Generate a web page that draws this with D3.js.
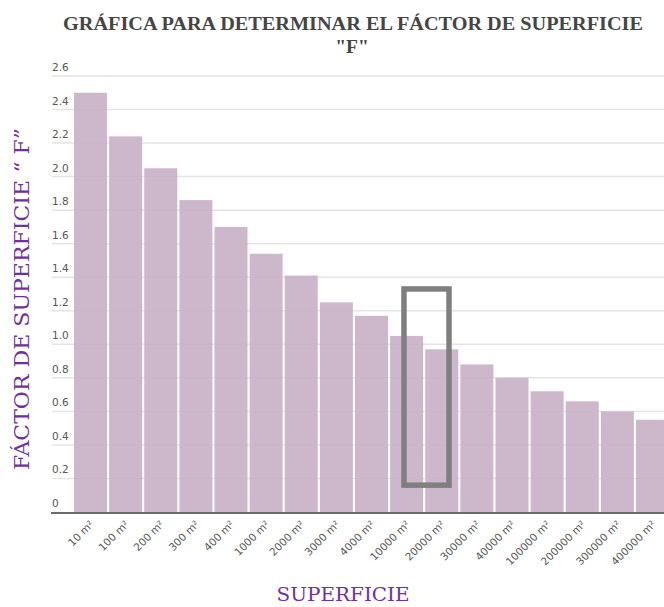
<!DOCTYPE html>
<html>
<head>
<meta charset="utf-8">
<script src="https://cdn.jsdelivr.net/npm/d3@7"></script>
<style>
  html, body { margin: 0; padding: 0; background: #fff; }
  svg { display: block; }
</style>
</head>
<body>
<svg id="chart" width="664" height="607"></svg>
<script>
// Surface categories and the surface factor "F" for each
const categories = ["10 m²", "100 m²", "200 m²", "300 m²", "400 m²", "1000 m²", "2000 m²",
  "3000 m²", "4000 m²", "10000 m²", "20000 m²", "30000 m²", "40000 m²", "100000 m²",
  "200000 m²", "300000 m²", "400000 m²"];
const factorValues = [2.5, 2.24, 2.05, 1.86, 1.70, 1.54, 1.41, 1.25, 1.17, 1.05, 0.97,
  0.88, 0.80, 0.72, 0.66, 0.60, 0.55];
const yTicks = [0, 0.2, 0.4, 0.6, 0.8, 1.0, 1.2, 1.4, 1.6, 1.8, 2.0, 2.2, 2.4, 2.6];
// Highlight box: category span and factor range it covers
const highlightCats = ["10000 m²", "20000 m²"];
const highlightRange = [0.16, 1.33];

const svg = d3.select("#chart");

const x = d3.scaleBand().domain(categories).range([74, 669]).paddingInner(0.06).paddingOuter(0);
const y = d3.scaleLinear().domain([0, 2.6]).range([512, 76]);

// Title
svg.append("text")
  .attr("x", 353).attr("y", 30)
  .attr("text-anchor", "middle")
  .attr("font-family", "Liberation Serif, serif")
  .attr("font-weight", "bold")
  .attr("font-size", 19.5)
  .attr("textLength", 580)
  .attr("lengthAdjust", "spacingAndGlyphs")
  .attr("fill", "#454545")
  .text("GRÁFICA PARA DETERMINAR EL FÁCTOR DE SUPERFICIE");
svg.append("text")
  .attr("x", 352).attr("y", 53)
  .attr("text-anchor", "middle")
  .attr("font-family", "Liberation Serif, serif")
  .attr("font-weight", "bold")
  .attr("font-size", 19.5)
  .attr("fill", "#454545")
  .text('"F"');

// Horizontal gridlines
svg.append("g").selectAll("line")
  .data(yTicks.filter(d => d > 0))
  .join("line")
  .attr("x1", 52).attr("x2", 664)
  .attr("y1", d => y(d)).attr("y2", d => y(d))
  .attr("stroke", "#e4e4e4")
  .attr("stroke-width", 1.5);

// Y tick labels sit just above their gridlines
svg.append("g").selectAll("text")
  .data(yTicks)
  .join("text")
  .attr("x", 52)
  .attr("y", d => y(d) - 5)
  .attr("font-family", "DejaVu Sans, sans-serif")
  .attr("font-size", 10.5)
  .attr("fill", "#555")
  .text(d => d === 0 ? "0" : d3.format(".1f")(d));

// Bars
svg.append("g").selectAll("rect")
  .data(categories.map((c, i) => ({ c, v: factorValues[i] })))
  .join("rect")
  .attr("x", d => x(d.c))
  .attr("y", d => y(d.v))
  .attr("width", x.bandwidth())
  .attr("height", d => y(0) - y(d.v))
  .attr("fill", "#c9b1c6")
  .attr("fill-opacity", 0.92);

// Baseline
svg.append("line")
  .attr("x1", 51).attr("x2", 664)
  .attr("y1", y(0) + 1).attr("y2", y(0) + 1)
  .attr("stroke", "#6b6b6b")
  .attr("stroke-width", 2);

// X tick labels, rotated
svg.append("g").selectAll("text")
  .data(categories)
  .join("text")
  .attr("transform", d => `translate(${x(d) + x.bandwidth() / 2 + 4},${y(0) + 13}) rotate(-45)`)
  .attr("text-anchor", "end")
  .attr("font-family", "DejaVu Sans, sans-serif")
  .attr("font-size", 10.5)
  .attr("fill", "#555")
  .text(d => d);

// Highlight box
const hx0 = x(highlightCats[0]) + x.bandwidth() * 0.42;
const hx1 = x(highlightCats[1]) + x.bandwidth() * 0.72;
svg.append("rect")
  .attr("x", hx0)
  .attr("y", y(highlightRange[1]))
  .attr("width", hx1 - hx0)
  .attr("height", y(highlightRange[0]) - y(highlightRange[1]))
  .attr("fill", "none")
  .attr("stroke", "#7f7f7f")
  .attr("stroke-width", 5.5);

// Axis titles
svg.append("text")
  .attr("transform", "translate(29,299) rotate(-90)")
  .attr("text-anchor", "middle")
  .attr("font-family", "DejaVu Serif, serif")
  .attr("font-size", 21)
  .attr("textLength", 342)
  .attr("lengthAdjust", "spacingAndGlyphs")
  .attr("fill", "#7030a0")
  .text("FÁCTOR DE SUPERFICIE “ F”");

svg.append("text")
  .attr("x", 343).attr("y", 601)
  .attr("text-anchor", "middle")
  .attr("font-family", "DejaVu Serif, serif")
  .attr("font-size", 19)
  .attr("textLength", 133)
  .attr("lengthAdjust", "spacingAndGlyphs")
  .attr("fill", "#7030a0")
  .text("SUPERFICIE");
</script>
</body>
</html>
